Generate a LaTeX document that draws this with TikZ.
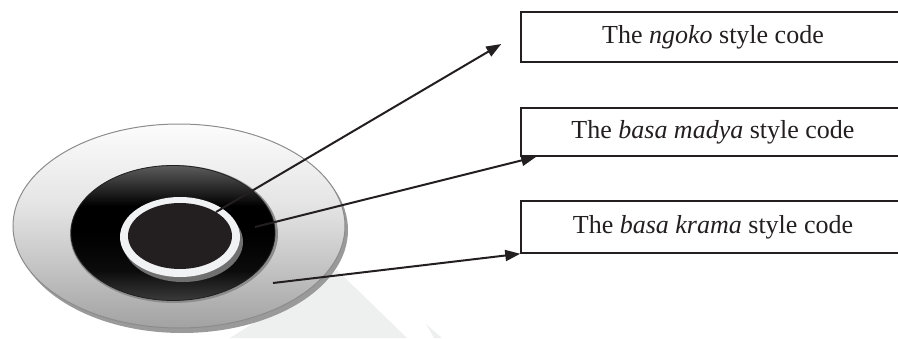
\documentclass[tikz,border=0pt]{standalone}
\usepackage{fontspec}
\setmainfont{Liberation Serif}
\usetikzlibrary{arrows.meta}
\definecolor{ink}{HTML}{231F20}
\definecolor{floorgray}{HTML}{EEEFEF}
\definecolor{diskedge}{HTML}{8C8C8C}
\definecolor{diskshadow}{HTML}{9A9A9A}
\definecolor{disktop}{HTML}{FCFCFC}
\definecolor{diskmid}{HTML}{E4E4E4}
\definecolor{disklow}{HTML}{C4C4C4}
\definecolor{diskbot}{HTML}{A2A2A2}
\definecolor{bandtop}{HTML}{5C5C5C}
\definecolor{bandbot}{HTML}{3A3A3A}
\definecolor{ringwhite}{HTML}{F1F2F3}
\definecolor{ringshadow}{HTML}{707070}
\pgfdeclareverticalshading{bandshade}{100bp}{color(0bp)=(bandbot); color(25bp)=(bandbot); color(36bp)=(black!80!bandbot); color(50bp)=(black); color(60bp)=(black); color(75bp)=(bandtop); color(100bp)=(bandtop)}
\pgfdeclareverticalshading{diskshade}{100bp}{color(0bp)=(diskbot); color(25bp)=(diskbot); color(40bp)=(disklow); color(55bp)=(diskmid); color(75bp)=(disktop); color(100bp)=(disktop)}
\begin{document}
\begin{tikzpicture}[x=1pt,y=-1pt,
  codebox/.style={draw=ink,line width=1.5pt,minimum width=384pt,inner sep=0pt,
    font=\fontsize{26}{30}\selectfont,text=ink},
  pointer/.style={draw=ink,line width=2pt,-{Triangle[length=15pt,width=11pt]}}]
\useasboundingbox (0,0) rectangle (898,338);
% floor shadow
\fill[floorgray] (337,270) -- (407,338) -- (230,338) -- cycle;
\fill[floorgray] (426,324) -- (442,338) -- (434,338) -- cycle;
% outer disk
\fill[diskshadow] (182,230) ellipse [x radius=166, y radius=103];
\shade[shading=diskshade, draw=diskedge, line width=1pt]
  (179,226) ellipse [x radius=166, y radius=102];
% black band
\fill[diskedge] (174,234) ellipse [x radius=104, y radius=69];
\shade[shading=bandshade, draw=ink, line width=0.8pt]
  (173,233) ellipse [x radius=102, y radius=67.5];
% white ring and centre
\fill[ringshadow] (183,242) ellipse [x radius=60, y radius=40];
\fill[ringwhite] (180,237) ellipse [x radius=60, y radius=40];
\fill[ink] (180,236) ellipse [x radius=52, y radius=33];
% boxes
\node[codebox, minimum height=50pt] (b1) at (713,37) {The \textit{ngoko} style code};
\node[codebox, minimum height=48pt] (b2) at (713,132) {The \textit{basa madya} style code};
\node[codebox, minimum height=52pt] (b3) at (713,227) {The \textit{basa krama} style code};
% arrow starts
\coordinate (s1) at (216,212);
\coordinate (s2) at (255,227);
\coordinate (s3) at (273,283);
\draw[pointer] (s1) -- ([shift={(-19,7)}]b1.west);
\draw[pointer] (s2) -- ([xshift=16pt]b2.south west);
\draw[pointer] (s3) -- (b3.south west);
\end{tikzpicture}
\end{document}
